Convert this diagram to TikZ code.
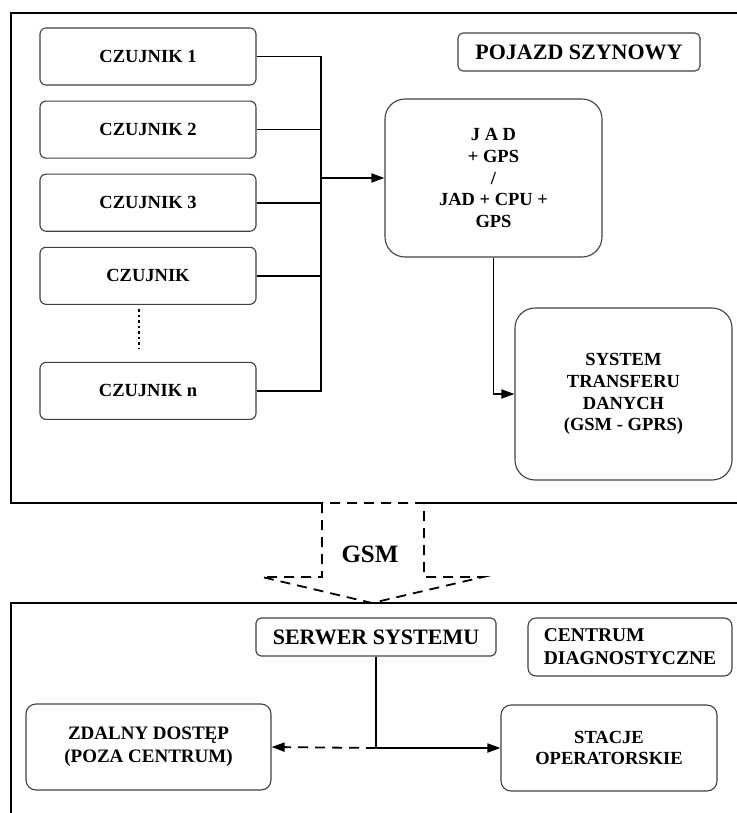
\documentclass[tikz,border=0pt]{standalone}
\usepackage{fontspec}
\setmainfont{Liberation Serif}
\usetikzlibrary{arrows.meta, positioning, calc}

\begin{document}
\begin{tikzpicture}[
        x=1pt, y=-1pt,
        >={Triangle[length=13pt,width=9pt]},
        node distance=15pt,
        box/.style={
            rectangle, draw=black!75, line width=1.1pt, rounded corners=6pt,
            inner sep=2pt, align=center, font=\bfseries\fontsize{18.5}{21.7}\selectfont
        },
        sensor/.style={box, minimum width=216pt, minimum height=57pt},
        tag/.style={box, rounded corners=5pt, font=\bfseries\fontsize{22}{26}\selectfont},
        frame/.style={line width=2.2pt, color=black},
        link/.style={line width=1.8pt, color=black},
        arrow/.style={->, link},
        gsmarrow/.style={dashed, dash pattern=on 10pt off 7pt, line width=1.8pt}
    ]
    \useasboundingbox (0,0) rectangle (736,813);

    % --- Frames ---
    \draw[frame] (740,13) -- (11,13) -- (11,503) -- (322,503);
    \draw[frame] (424,503) -- (740,503);
    \draw[frame] (740,603) -- (11,603) -- (11,820);

    % --- Vehicle nodes ---
    \node[sensor] (s1) at (148,56.5) {CZUJNIK 1};
    \node[sensor, below=of s1] (s2) {CZUJNIK 2};
    \node[sensor, below=of s2] (s3) {CZUJNIK 3};
    \node[sensor, below=of s3] (s4) {CZUJNIK};
    \node[sensor, below=57pt of s4] (sn) {CZUJNIK n};

    \node[tag, minimum width=242pt, minimum height=38pt] (pojazd) at (579,52) {POJAZD SZYNOWY};

    \node[box, rounded corners=20pt, minimum width=217pt, minimum height=158pt] (jad) at (493.5,178) {
        J A D\\
        + GPS\\
        /\\
        JAD + CPU +\\
        GPS
    };

    \node[box, rounded corners=20pt, minimum width=217pt, minimum height=172pt] (transfer) at (623.5,394) {
        SYSTEM\\
        TRANSFERU\\
        DANYCH\\
        (GSM - GPRS)
    };

    \draw[line width=2pt, dash pattern=on 2.5pt off 3pt] (139,309) -- (139,349);

    % --- Vehicle connections ---
    \coordinate (bus) at (321,178);
    \draw[link] (s1.east) -| (bus |- sn.east) -- (sn.east);
    \foreach \s in {s2,s3,s4}
        \draw[link] (\s.east) -- (\s.east -| bus);
    \draw[arrow] (bus) -- (jad.west);
    \draw[arrow] (jad.south) |- (transfer.west);

    % --- GSM link ---
    \draw[gsmarrow] (322,503) -- (322,577) -- (262,577) -- (372,603) -- (483,577)
        -- (424,577) -- (424,503) -- cycle;
    \node[font=\bfseries\fontsize{25}{28}\selectfont] (gsm) at (370,554) {GSM};

    % --- Centre nodes ---
    \node[tag, minimum width=240pt, minimum height=38pt] (serwer) at (376,637) {SERWER SYSTEMU};

    \node[box, rounded corners=8pt, align=left, minimum width=204pt, minimum height=58pt,
        font=\bfseries\fontsize{19.5}{23}\selectfont] (centrum) at (630,647) {
        CENTRUM\\
        DIAGNOSTYCZNE
    };

    \node[box, rounded corners=10pt, minimum width=245pt, minimum height=86pt,
        font=\bfseries\fontsize{19}{23}\selectfont] (zdalny) at (148.5,747) {
        ZDALNY DOSTĘP\\
        (POZA CENTRUM)
    };

    \node[box, rounded corners=10pt, minimum width=216pt, minimum height=86pt] (stacje) at (609,748) {
        STACJE\\
        OPERATORSKIE
    };

    % --- Centre connections ---
    \coordinate (split) at (serwer.south |- stacje.west);
    \draw[link] (serwer.south) -- (split);
    \draw[arrow] (split) -- (stacje.west);
    \draw[arrow, dashed, dash pattern=on 10pt off 7pt] (split) -- (zdalny.east);

\end{tikzpicture}
\end{document}
